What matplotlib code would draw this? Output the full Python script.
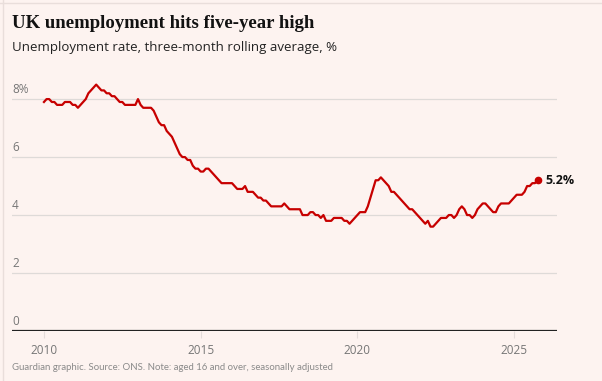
import numpy as np
import matplotlib
matplotlib.use("Agg")
import matplotlib.pyplot as plt
from matplotlib.lines import Line2D

# monthly unemployment rate, %, three-month rolling average (Jan 2010 - Oct 2025)
rate_2010 = [7.9, 8.0, 8.0, 7.9, 7.9, 7.8, 7.8, 7.8, 7.9, 7.9, 7.9, 7.8]
rate_2011 = [7.8, 7.7, 7.8, 7.9, 8.0, 8.2, 8.3, 8.4, 8.5, 8.4, 8.3, 8.3]
rate_2012 = [8.2, 8.2, 8.1, 8.1, 8.0, 7.9, 7.9, 7.8, 7.8, 7.8, 7.8, 7.8]
rate_2013 = [8.0, 7.8, 7.7, 7.7, 7.7, 7.7, 7.6, 7.4, 7.2, 7.1, 7.1, 6.9]
rate_2014 = [6.8, 6.7, 6.5, 6.3, 6.1, 6.0, 6.0, 5.9, 5.9, 5.7, 5.6, 5.6]
rate_2015 = [5.5, 5.5, 5.6, 5.6, 5.5, 5.4, 5.3, 5.2, 5.1, 5.1, 5.1, 5.1]
rate_2016 = [5.1, 5.0, 4.9, 4.9, 4.9, 5.0, 4.8, 4.8, 4.8, 4.7, 4.6, 4.6]
rate_2017 = [4.5, 4.5, 4.4, 4.3, 4.3, 4.3, 4.3, 4.3, 4.4, 4.3, 4.2, 4.2]
rate_2018 = [4.2, 4.2, 4.2, 4.0, 4.0, 4.0, 4.1, 4.1, 4.0, 4.0, 3.9, 4.0]
rate_2019 = [3.8, 3.8, 3.8, 3.9, 3.9, 3.9, 3.9, 3.8, 3.8, 3.7, 3.8, 3.9]
rate_2020 = [4.0, 4.1, 4.1, 4.1, 4.3, 4.6, 4.9, 5.2, 5.2, 5.3, 5.2, 5.1]
rate_2021 = [5.0, 4.8, 4.8, 4.7, 4.6, 4.5, 4.4, 4.3, 4.2, 4.2, 4.1, 4.0]
rate_2022 = [3.9, 3.8, 3.7, 3.8, 3.6, 3.6, 3.7, 3.8, 3.9, 3.9, 3.9, 4.0]
rate_2023 = [4.0, 3.9, 4.0, 4.2, 4.3, 4.2, 4.0, 4.0, 3.9, 4.0, 4.2, 4.3]
rate_2024 = [4.4, 4.4, 4.3, 4.2, 4.1, 4.1, 4.3, 4.4, 4.4, 4.4, 4.4, 4.5]
rate_2025 = [4.6, 4.7, 4.7, 4.7, 4.8, 5.0, 5.0, 5.1, 5.1, 5.2]

rates = (rate_2010 + rate_2011 + rate_2012 + rate_2013 + rate_2014 + rate_2015
         + rate_2016 + rate_2017 + rate_2018 + rate_2019 + rate_2020 + rate_2021
         + rate_2022 + rate_2023 + rate_2024 + rate_2025)
start_year = 2010
years = start_year + np.arange(len(rates)) / 12

y_ticks = [0, 2, 4, 6, 8]
y_labels = ["0", "2", "4", "6", "8%"]
x_ticks = [2010, 2015, 2020, 2025]

bg = "#fdf3f0"
red = "#c70000"
grey = "#767676"

fig = plt.figure(figsize=(6.02, 3.81), dpi=100, facecolor=bg)
ax = fig.add_axes([12 / 602, 50 / 381, 545 / 602, 258 / 381])
ax.set_facecolor(bg)

ax.set_xlim(2008.98, 2026.37)
ax.set_ylim(0, 8.9)

for t, lab in zip(y_ticks, y_labels):
    if t > 0:
        ax.axhline(t, color="#dedad8", lw=0.9, zorder=1)
    ax.annotate(lab, xy=(0, t), xycoords=("axes fraction", "data"),
                xytext=(0, 2), textcoords="offset points",
                ha="left", va="bottom", fontsize=8.5, color=grey,
                family="Open Sans")
ax.axhline(0, color="#222222", lw=1.6, zorder=3)

ax.plot(years, rates, color=red, lw=1.6, zorder=4, solid_joinstyle="round")
ax.plot(years[-1], rates[-1], "o", color=red, ms=4.5, zorder=5)
ax.annotate(f"{rates[-1]:.1f}%", xy=(years[-1], rates[-1]),
            xytext=(6, 0), textcoords="offset points", ha="left", va="center",
            fontsize=9, fontweight="bold", color="#121212", family="Open Sans")

ax.set_yticks([])
ax.set_xticks(x_ticks)
ax.set_xticklabels([str(x) for x in x_ticks], fontsize=8.5, color=grey,
                   family="Open Sans")
ax.tick_params(axis="x", length=5, width=0.8, color="#e4dcda", pad=4)
for s in ax.spines.values():
    s.set_visible(False)

fig.text(12 / 602, 1 - 23 / 381, "UK unemployment hits five-year high",
         fontsize=13.5, family="Liberation Serif", fontweight="bold",
         color="#121212", ha="left", va="center")
fig.text(12 / 602, 1 - 48 / 381, "Unemployment rate, three-month rolling average, %",
         fontsize=9.5, family="Open Sans", color="#222222", ha="left", va="center")
fig.text(12 / 602, 1 - 368 / 381,
         "Guardian graphic. Source: ONS. Note: aged 16 and over, seasonally adjusted",
         fontsize=6.9, family=["Liberation Sans Narrow", "Lato"], color="#8a8a8a",
         ha="left", va="center")

# faint frame lines at the top and left edges
fig.add_artist(Line2D([0, 1], [1 - 2.5 / 381] * 2, transform=fig.transFigure,
                      color="#e9dedb", lw=1))
fig.add_artist(Line2D([2.5 / 602] * 2, [0, 1], transform=fig.transFigure,
                      color="#e9dedb", lw=1))

fig.savefig("out.png", dpi=100, facecolor=bg)
